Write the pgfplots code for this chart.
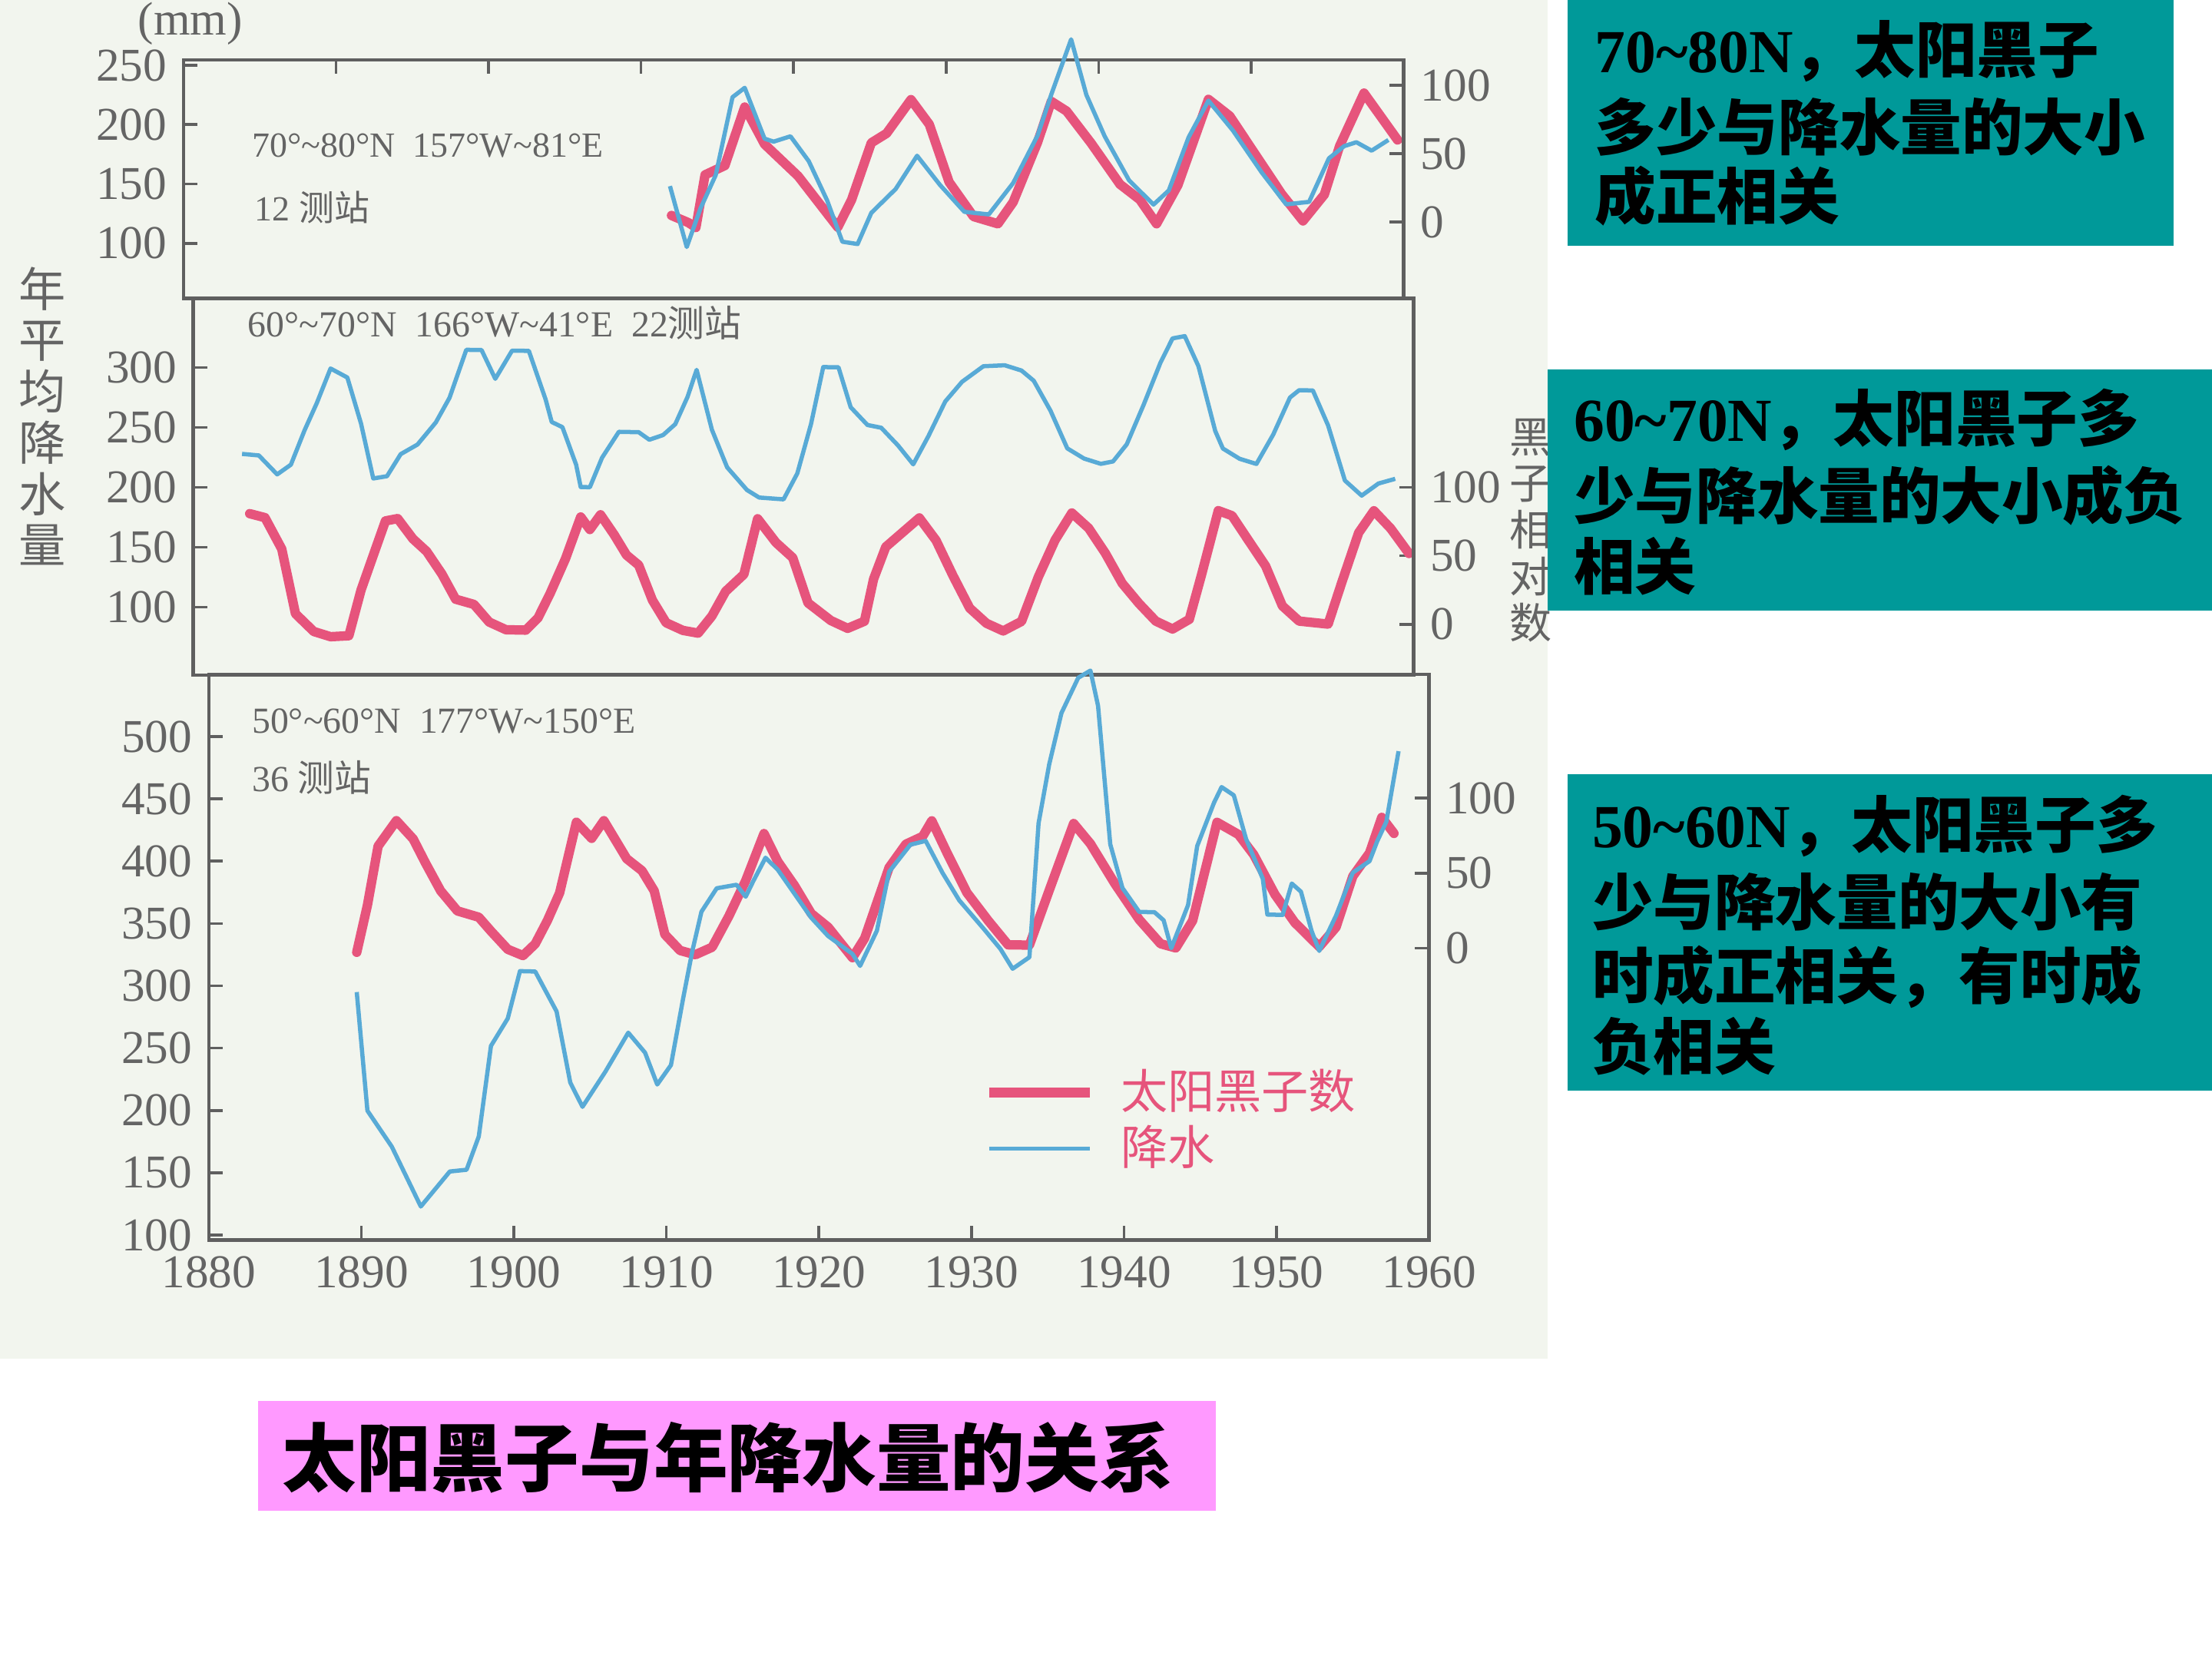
\documentclass[border=0pt]{standalone}
\usepackage{pgfplots}
\pgfplotsset{compat=1.18}
\usepackage{fontspec}
\setmainfont{Liberation Serif}
\newfontfamily\cjk{Noto Sans CJK SC}
\definecolor{scanbg}{RGB}{242,245,238}
\definecolor{teal2}{RGB}{0,153,153}
\definecolor{pinkbox}{RGB}{255,153,255}
\definecolor{sred}{RGB}{230,84,124}
\definecolor{sblue}{RGB}{88,170,214}
\definecolor{framegray}{RGB}{95,95,95}
\definecolor{labgray}{RGB}{100,100,100}
\newcommand\fs[1]{\fontsize{#1}{#1}\selectfont}
\pgfplotsset{
  panel/.style={scale only axis, width=259.5pt, anchor=south west, xmin=1880, xmax=1960,
    axis line style={draw=framegray, line width=0.7pt},
    every tick/.style={framegray, line width=0.6pt},
    major tick length=3pt, tick align=inside,
    tick label style={font=\fs{10}, text=labgray},
    /pgf/number format/assume math mode=true,
    /pgf/number format/1000 sep={}},
  redl/.style={sred, line width=2pt, line join=round, line cap=round},
  bluel/.style={sblue, line width=0.9pt, line join=round},
}
\begin{document}
\begin{tikzpicture}
\begin{scope}[x=0.3pt,y=-0.3pt]
\fill[white] (0,0) rectangle (1568,1176);
\fill[scanbg] (0,0) rectangle (1097,963);
\end{scope}

% ---------- Panel 1 (70-80N) ----------
\begin{axis}[panel, at={(39pt,-63.45pt)}, height=50.7pt,
  ymin=-55.7, ymax=118.6, ytick={0,50,100}, ytick pos=right, xtick=\empty]
\addplot[redl] coordinates {(1912.0,4.9) (1913.1,-0.3) (1913.6,-3.9) (1914.2,34.6) (1915.5,41.4) (1916.8,84.2) (1918.1,57) (1920.3,33.7) (1922.9,-3.7) (1923.8,16.2) (1925.1,58) (1926.1,64.9) (1927.7,89.6) (1928.9,71.5) (1930.2,29.3) (1931.8,4.1) (1933.4,-1.2) (1934.4,14.7) (1936.0,58.4) (1936.9,88.3) (1937.9,81.2) (1939.5,57.9) (1941.4,27.7) (1942.7,16.5) (1943.8,-1.2) (1945.2,27.1) (1947.2,89.8) (1948.6,77.6) (1950.4,47.4) (1952.0,20.6) (1953.4,0.9) (1954.8,20.2) (1955.8,55.6) (1957.4,94.4) (1959.6,60.1)};
\end{axis}
\begin{axis}[panel, at={(39pt,-63.45pt)}, height=50.7pt, clip=false,
  ymin=53.5, ymax=254.6, ytick={100,150,200,250}, ytick pos=left,
  xtick={1890,1900,...,1950}, xtick pos=right, xticklabels={}]
\addplot[bluel] coordinates {(1911.9,148.2) (1913.0,96.8) (1913.9,129.4) (1914.9,157.5) (1916.0,223.2) (1916.8,231.1) (1918.1,188.2) (1918.7,185.7) (1919.8,190.2) (1921.0,169.2) (1922.2,136.2) (1923.2,101.3) (1924.2,99.3) (1925.1,125.6) (1926.7,145.8) (1928.1,173.8) (1929.6,149.2) (1931.2,126.5) (1932.8,124.3) (1934.4,150.8) (1936.0,190.9) (1936.9,225.5) (1938.2,272.0) (1939.2,225.1) (1940.4,190.2) (1942.0,153.0) (1943.6,132.6) (1944.6,144.5) (1945.9,189.3) (1947.2,220.3) (1948.8,195.2) (1950.7,159.6) (1952.3,132.8) (1953.8,134.9) (1955.1,171.6) (1956.1,181.9) (1956.9,185.2) (1957.9,178.1) (1959.0,187.1)};
\end{axis}

% ---------- Panel 2 (60-70N) ----------
\begin{axis}[panel, at={(41.1pt,-143.55pt)}, height=80.1pt,
  ymin=-37.1, ymax=238.1, ytick={0,50,100}, ytick pos=right, xtick=\empty]
\addplot[redl] coordinates {(1883.7,80.8) (1884.7,77.9) (1885.8,55.0) (1886.7,7.7) (1887.9,-5.3) (1889.0,-9.1) (1890.2,-8.4) (1891.0,25.0) (1891.8,50.3) (1892.6,75.5) (1893.4,77.2) (1894.4,62.4) (1895.3,53.2) (1896.3,36.7) (1897.2,18.3) (1898.4,14.5) (1899.4,1.6) (1900.5,-4.0) (1901.8,-4.3) (1902.6,4.6) (1903.4,22.6) (1904.4,47.8) (1905.4,78.4) (1906.0,69.2) (1906.7,80.0) (1907.6,65.3) (1908.4,50.6) (1909.2,43.2) (1910.1,17.6) (1911.0,1.1) (1912.1,-4.5) (1913.1,-6.5) (1914.0,6.0) (1914.9,24.0) (1916.1,36.5) (1917.0,77.1) (1918.2,59.7) (1919.3,48.6) (1920.3,15.6) (1921.8,2.7) (1922.9,-3.0) (1924.0,2.2) (1924.6,33.0) (1925.4,56.5) (1926.5,67.1) (1927.6,77.7) (1928.7,61.2) (1929.8,35.6) (1930.9,11.8) (1932.0,0.7) (1933.1,-4.9) (1934.3,2.1) (1935.4,34.5) (1936.5,61.5) (1937.6,81.3) (1938.7,70.2) (1939.8,51.8) (1940.9,29.9) (1942.0,15.2) (1943.1,2.3) (1944.2,-3.5) (1945.3,3.6) (1946.1,36.1) (1947.2,83.0) (1948.1,79.3) (1949.2,60.9) (1950.3,42.6) (1951.4,13.4) (1952.5,2.3) (1954.4,0.1) (1955.3,30.7) (1956.4,66.8) (1957.4,82.9) (1958.5,70.0) (1959.7,51.7)};
\end{axis}
\begin{axis}[panel, at={(41.1pt,-143.55pt)}, height=80.1pt,
  ymin=43.5, ymax=357.6, ytick={100,150,...,300}, ytick pos=left, xtick=\empty]
\addplot[bluel] coordinates {(1883.2,227.9) (1884.3,226.6) (1885.5,210.8) (1886.4,218.9) (1887.3,247.7) (1888.1,270.3) (1889.0,299.1) (1890.1,291.6) (1891.0,253.1) (1891.8,207.4) (1892.7,209.3) (1893.6,227.7) (1894.7,235.7) (1895.9,254.1) (1896.8,274.7) (1897.9,314.7) (1898.9,314.5) (1899.8,290.5) (1900.9,314.0) (1902.0,313.8) (1903.1,273.3) (1903.5,254.5) (1904.2,250.2) (1905.1,218.9) (1905.4,200.3) (1906.0,200.1) (1906.8,224.7) (1907.9,246.3) (1909.2,246.0) (1909.9,239.7) (1910.8,243.6) (1911.6,252.7) (1912.4,275.3) (1913.0,298.0) (1914.0,248.1) (1915.0,216.7) (1916.3,197.8) (1917.1,191.5) (1918.7,190.0) (1919.6,211.6) (1920.5,252.8) (1921.3,300.3) (1922.3,300.1) (1923.1,266.8) (1924.2,252.0) (1925.1,249.7) (1926.2,235.0) (1927.2,219.2) (1928.2,242.8) (1929.3,271.6) (1930.4,288.0) (1931.8,301.0) (1933.2,301.8) (1934.3,297.4) (1935.1,288.9) (1936.2,263.9) (1937.3,232.5) (1938.4,224.0) (1939.5,219.6) (1940.3,221.6) (1941.2,235.9) (1942.3,268.7) (1943.4,303.7) (1944.2,324.2) (1945.0,326.1) (1945.9,301.0) (1947.0,247.0) (1947.5,232.4) (1948.6,223.8) (1949.7,219.5) (1950.8,244.0) (1951.9,274.9) (1952.5,281.0) (1953.4,280.8) (1954.4,251.6) (1955.5,205.7) (1956.6,193.1) (1957.7,203.2) (1958.8,207.1)};
\end{axis}

% ---------- Panel 3 (50-60N) ----------
\begin{axis}[panel, at={(44.4pt,-263.7pt)}, height=120.3pt,
  ymin=-194.7, ymax=182.6, ytick={0,50,100}, ytick pos=right, xtick=\empty]
\addplot[redl] coordinates {(1889.7,-2.8) (1890.4,28.6) (1891.1,68.0) (1892.3,85.0) (1893.4,72.8) (1894.2,56.9) (1895.2,38.2) (1896.3,24.8) (1897.7,20.6) (1898.5,11.3) (1899.6,-0.8) (1900.6,-5.0) (1901.4,2.8) (1902.2,18.4) (1903.0,36.8) (1904.1,84.0) (1905.1,73.2) (1905.9,85.0) (1907.4,59.6) (1908.4,51.6) (1909.2,38.2) (1909.9,9.1) (1910.9,-1.6) (1911.9,-4.4) (1913.0,0.6) (1914.1,21.4) (1915.2,45.0) (1916.4,76.4) (1917.3,57.8) (1918.4,41.7) (1919.5,23.0) (1920.6,14.0) (1922.2,-6.4) (1923.0,6.6) (1924.6,53.7) (1925.7,69.3) (1926.8,74.5) (1927.4,84.9) (1928.4,63.5) (1929.7,37.0) (1931.1,18.3) (1932.4,2.2) (1933.8,2.0) (1935.1,38.6) (1936.7,83.1) (1937.8,69.6) (1939.4,43.0) (1941.0,19.0) (1942.4,2.9) (1943.4,0.1) (1944.5,18.3) (1946.1,83.9) (1947.5,75.8) (1948.5,62.4) (1949.9,35.7) (1951.2,17.0) (1952.8,0.9) (1953.9,13.9) (1955.0,47.9) (1956.1,63.5) (1956.9,87.2) (1957.7,76.5)};
\end{axis}
\begin{axis}[panel, at={(44.4pt,-263.7pt)}, height=120.3pt, clip=false,
  ymin=96, ymax=550, ytick={100,150,...,500}, ytick pos=left,
  xtick={1880,1890,...,1960}, xtick pos=left,
  legend style={at={(0.6347,0.3117)}, anchor=north west, draw=none, fill=none,
    inner sep=0pt, nodes={inner sep=1pt}, column sep=4.5pt,
    font=\cjk\fs{10}},
  legend cell align=left,
  legend image code/.code={\draw[#1] (0pt,0pt) -- (21.5pt,0pt);}]
\addlegendimage{redl, line cap=butt}
\addlegendentry{\textcolor{sred}{太阳黑子数}}
\addplot[bluel] coordinates {(1889.7,295.0) (1890.4,199.8) (1892.0,170.9) (1893.9,122.9) (1895.8,151.0) (1896.9,152.4) (1897.7,179.1) (1898.5,251.8) (1899.6,273.8) (1900.4,311.8) (1901.4,311.5) (1902.8,279.5) (1903.7,222.3) (1904.5,202.9) (1906.0,231.1) (1907.5,262.4) (1908.6,246.4) (1909.4,220.8) (1910.3,236.4) (1911.1,290.0) (1911.7,327.9) (1912.3,359.5) (1913.3,378.3) (1914.6,381.1) (1915.2,371.5) (1915.7,384.1) (1916.5,402.8) (1917.3,393.2) (1918.4,373.9) (1919.5,354.6) (1920.6,340.0) (1922.2,325.6) (1922.7,316.0) (1923.8,344.2) (1924.6,391.5) (1926.0,413.3) (1927.0,416.3) (1928.1,390.7) (1929.2,368.6) (1930.8,345.8) (1931.9,329.6) (1932.7,313.7) (1933.8,323.0) (1934.4,430.5) (1935.1,477.9) (1935.9,518.9) (1937.0,547.2) (1937.8,553.0) (1938.3,524.7) (1939.1,413.6) (1939.9,378.5) (1941.0,359.3) (1942.0,359.1) (1942.6,352.6) (1943.1,330.2) (1944.2,364.8) (1944.8,412.2) (1945.9,446.9) (1946.4,459.5) (1947.2,452.9) (1948.0,418.0) (1949.1,385.9) (1949.4,357.2) (1950.4,356.9) (1951.0,382.1) (1951.6,375.6) (1952.3,344.0) (1952.8,328.0) (1953.9,356.3) (1955.0,390.8) (1956.1,400.1) (1956.6,416.0) (1957.2,431.7) (1958.0,488.3)};
\addlegendentry{\textcolor{sred}{降水}}
\end{axis}

\begin{scope}[x=0.3pt,y=-0.3pt]
% chart texts
\node[text=labgray, font=\fs{10}, inner sep=1pt] at (135,17) {(mm)};
\node[text=labgray, font=\cjk\fontsize{10}{10.9}\selectfont, align=center, inner sep=0pt] at (30,295) {年\\平\\均\\降\\水\\量};
\node[text=labgray, font=\cjk\fontsize{9}{9.9}\selectfont, align=center, inner sep=0pt] at (1085,376) {黑\\子\\相\\对\\数};
\node[anchor=west, inner sep=0pt, text=labgray, font=\fs{7.5}] at (178,103) {70°\textasciitilde80°N\enspace 157°W\textasciitilde81°E};
\node[anchor=west, inner sep=0pt, text=labgray, font=\fs{7.5}] at (180,147) {12 {\cjk 测站}};
\node[anchor=west, inner sep=0pt, text=labgray, font=\fs{7.8}] at (175,229) {60°\textasciitilde70°N\enspace 166°W\textasciitilde41°E\enspace 22{\cjk 测站}};
\node[anchor=west, inner sep=0pt, text=labgray, font=\fs{7.8}] at (178,511) {50°\textasciitilde60°N\enspace 177°W\textasciitilde150°E};
\node[anchor=west, inner sep=0pt, text=labgray, font=\fs{7.8}] at (178,551) {36 {\cjk 测站}};

% teal boxes
\fill[teal2] (1111,0) rectangle (1541,174);
\fill[teal2] (1097,262) rectangle (1568,433);
\fill[teal2] (1111,549) rectangle (1568,773);
\begin{scope}[every node/.style={anchor=base west, inner sep=0pt, font=\fs{13}\bfseries}]
\node at (1130,51.4) {70\textasciitilde80N{\cjk\bfseries ，太阳黑子}};
\node at (1130,106.7) {\cjk\bfseries 多少与降水量的大小};
\node at (1130,155.7) {\cjk\bfseries 成正相关};
\node at (1115,313) {60\textasciitilde70N{\cjk\bfseries ，太阳黑子多}};
\node at (1115,368) {\cjk\bfseries 少与降水量的大小成负};
\node at (1115,418) {\cjk\bfseries 相关};
\node at (1128,601) {50\textasciitilde60N{\cjk\bfseries ，太阳黑子多}};
\node at (1128,656) {\cjk\bfseries 少与降水量的大小有};
\node at (1128,708) {\cjk\bfseries 时成正相关，有时成};
\node at (1128,758) {\cjk\bfseries 负相关};
\end{scope}

% pink title box
\fill[pinkbox] (183,993) rectangle (862,1071);
\node[font=\cjk\fs{15.8}\bfseries, inner sep=0pt] at (516,1033) {太阳黑子与年降水量的关系};
\end{scope}
\pgfresetboundingbox
\useasboundingbox (0,0) rectangle (470.4pt,-352.8pt);
\end{tikzpicture}
\end{document}
